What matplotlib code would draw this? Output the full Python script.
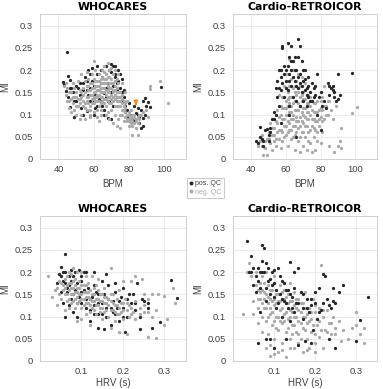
import numpy as np
import matplotlib
matplotlib.use("Agg")
import matplotlib.pyplot as plt
from matplotlib.lines import Line2D

# ---------------- data ----------------
who_bpm_pos = [(44.6,0.241),(42.5,0.172),(43,0.168),(45.5,0.187),(46.5,0.178),(46.5,0.16),(44.5,0.152),(45.5,0.14),(46.8,0.118),(48.7,0.095),(50,0.13),(51,0.16),(53,0.115),(52,0.145),(54,0.17),(55,0.185),(56,0.155),(56,0.108),(57,0.2),(58,0.13),(59,0.175),(60,0.165),(60,0.098),(61,0.145),(62,0.19),(62,0.208),(63,0.155),(64,0.13),(64,0.17),(65,0.185),(66,0.148),(66,0.098),(67,0.16),(68,0.13),(68,0.17),(69,0.2),(70,0.213),(70,0.15),(71,0.208),(71,0.12),(72,0.19),(72,0.185),(73,0.17),(73,0.14),(74,0.2),(75,0.16),(75,0.19),(76,0.13),(76,0.18),(77,0.155),(78,0.12),(78,0.105),(79,0.095),(80,0.09),(81,0.1),(83,0.12),(84,0.103),(85,0.1),(86,0.08),(87,0.07),(88,0.092),(88,0.13),(89,0.137),(90,0.12),(91,0.128),(92,0.118),(87,0.11),(98.5,0.161),(57,0.145),(54,0.1),(50,0.165),(48,0.15),(58,0.16),(62,0.12),(66,0.11),(70,0.09),(68,0.092),
               (52,0.17),(54,0.155),(56,0.175),(58,0.19),(60,0.13),(61,0.115),(63,0.135),(65,0.12),(67,0.14),(69,0.13),(71,0.165),(73,0.155),(74,0.175),(76,0.15),(77,0.14),(79,0.11),(80,0.125),(82,0.09),(83,0.085),(85,0.115),(86,0.095),(88,0.075),(89,0.1),(59,0.205),(64,0.2),(67,0.21),(70,0.195),(72,0.21),(49,0.13),(47,0.16)]
who_bpm_neg = [(43,0.165),(44,0.145),(45,0.13),(46,0.15),(47,0.135),(47,0.105),(48,0.125),(48,0.17),(49,0.14),(49,0.11),(50,0.15),(50,0.12),(51,0.135),(51,0.175),(52,0.155),(52,0.125),(53,0.19),(53,0.14),(53,0.1),(54,0.16),(54,0.13),(55,0.15),(55,0.175),(55,0.115),(56,0.14),(56,0.165),(56,0.195),(57,0.125),(57,0.155),(57,0.18),(58,0.145),(58,0.17),(58,0.11),(59,0.135),(59,0.16),(59,0.19),(60,0.125),(60,0.15),(60,0.18),(60,0.105),(61,0.14),(61,0.165),(61,0.2),(62,0.13),(62,0.155),(62,0.175),(62,0.11),(63,0.145),(63,0.165),(63,0.19),(63,0.12),(64,0.14),(64,0.16),(64,0.18),(64,0.1),(65,0.13),(65,0.15),(65,0.17),(65,0.2),(66,0.135),(66,0.16),(66,0.18),(66,0.21),(67,0.12),(67,0.145),(67,0.17),(67,0.19),(68,0.14),(68,0.155),(68,0.185),(68,0.215),(69,0.125),(69,0.15),(69,0.17),(69,0.09),(70,0.135),(70,0.16),(70,0.18),(70,0.205),(71,0.14),(71,0.155),(71,0.17),(72,0.12),(72,0.145),(72,0.165),(72,0.2),(73,0.13),(73,0.15),(73,0.18),(74,0.14),(74,0.12),(74,0.17),(75,0.13),(75,0.15),(75,0.1),(75,0.07),(76,0.125),(76,0.145),(77,0.11),(77,0.13),(78,0.095),(78,0.115),(79,0.1),(79,0.085),(79,0.13),(80,0.105),(80,0.09),(80,0.075),(81,0.095),(81,0.08),(81,0.11),(82,0.085),(82,0.1),(82,0.055),(83,0.08),(83,0.092),(84,0.07),(84,0.085),(85,0.055),(85,0.095),(86,0.09),(87,0.1),(88,0.105),(90,0.11),(91,0.095),(92,0.165),(92,0.158),(98,0.175),(102,0.125),(73,0.075),(71,0.08),(67,0.1),(63,0.085),(58,0.095),(52,0.09),(46,0.115),(60,0.22),(66,0.195),(69,0.2),(74,0.19),(76,0.17),(78,0.15),(77,0.085),(55,0.09),(50,0.1),
               (54,0.145),(55,0.125),(56,0.13),(57,0.14),(57,0.165),(58,0.12),(58,0.155),(59,0.145),(59,0.17),(59,0.125),(60,0.135),(60,0.16),(60,0.14),(61,0.13),(61,0.15),(61,0.175),(62,0.14),(62,0.165),(62,0.145),(63,0.13),(63,0.155),(63,0.175),(64,0.15),(64,0.125),(64,0.17),(65,0.14),(65,0.16),(65,0.185),(66,0.125),(66,0.15),(66,0.17),(67,0.135),(67,0.155),(67,0.18),(68,0.13),(68,0.15),(68,0.165),(69,0.14),(69,0.16),(69,0.185),(70,0.125),(70,0.145),(70,0.17),(71,0.13),(71,0.15),(71,0.19),(72,0.135),(72,0.155),(72,0.175),(73,0.12),(73,0.14),(73,0.16),(74,0.13),(74,0.15),(75,0.12),(75,0.14),(76,0.11),(76,0.135),(77,0.12),(78,0.105),(78,0.125),(79,0.09),(80,0.1),(80,0.085),(81,0.09),(82,0.075),(83,0.1),(84,0.09),(85,0.08),(86,0.1),(52,0.135),(53,0.15),(51,0.12),(50,0.14),(49,0.16),(48,0.14),(47,0.15),(46,0.13),(45,0.16),(44,0.17),(54,0.12),(56,0.11),(58,0.1),(62,0.095),(64,0.11),(68,0.105),(72,0.1),(74,0.09),(76,0.1),(70,0.11)]

car_bpm_pos = [(43,0.04),(44,0.035),(45,0.05),(45,0.072),(46,0.045),(47,0.03),(48,0.065),(49,0.068),(50,0.055),(50,0.04),(51,0.07),(52,0.09),(53,0.105),(54,0.1),(54,0.16),(55,0.14),(55,0.175),(56,0.12),(56,0.2),(57,0.155),(57,0.185),(58,0.255),(58,0.25),(59,0.21),(59,0.14),(60,0.2),(60,0.175),(61,0.26),(61,0.155),(62,0.23),(62,0.19),(62,0.12),(63,0.255),(63,0.2),(63,0.165),(64,0.14),(64,0.22),(65,0.23),(65,0.175),(66,0.13),(66,0.2),(67,0.27),(67,0.16),(68,0.255),(68,0.19),(68,0.12),(69,0.15),(69,0.22),(70,0.175),(70,0.13),(71,0.2),(71,0.155),(72,0.16),(72,0.12),(73,0.185),(73,0.14),(74,0.15),(75,0.17),(75,0.13),(76,0.16),(77,0.145),(78,0.19),(78,0.1),(80,0.065),(80,0.15),(82,0.13),(83,0.115),(84,0.17),(85,0.165),(86,0.16),(87,0.165),(88,0.15),(89,0.13),(90,0.19),(90,0.135),(91,0.145),(98,0.193),(66,0.05),(62,0.1),(57,0.08),
               (56,0.16),(57,0.2),(58,0.17),(59,0.19),(60,0.16),(61,0.21),(62,0.175),(63,0.22),(64,0.185),(65,0.2),(66,0.165),(67,0.23),(67,0.185),(68,0.17),(69,0.165),(70,0.2),(71,0.18),(72,0.145),(73,0.165),(74,0.13),(76,0.14),(77,0.165),(79,0.14),(81,0.12),(85,0.145),(87,0.155),(88,0.14),(53,0.09),(51,0.06),(47,0.04)]
car_bpm_neg = [(46,0.03),(47,0.01),(48,0.025),(49,0.045),(49,0.01),(50,0.06),(51,0.035),(51,0.08),(52,0.02),(52,0.055),(53,0.07),(53,0.04),(54,0.03),(54,0.085),(55,0.06),(55,0.11),(56,0.045),(56,0.095),(57,0.025),(57,0.12),(57,0.065),(58,0.04),(58,0.09),(58,0.14),(59,0.075),(59,0.115),(59,0.165),(60,0.055),(60,0.1),(60,0.13),(60,0.19),(61,0.03),(61,0.085),(61,0.12),(61,0.15),(62,0.065),(62,0.105),(62,0.14),(62,0.165),(62,0.225),(63,0.045),(63,0.09),(63,0.12),(63,0.18),(64,0.075),(64,0.1),(64,0.16),(64,0.2),(65,0.02),(65,0.055),(65,0.13),(65,0.15),(66,0.085),(66,0.11),(66,0.145),(66,0.175),(67,0.04),(67,0.07),(67,0.125),(67,0.19),(68,0.015),(68,0.095),(68,0.14),(68,0.165),(69,0.06),(69,0.105),(69,0.13),(69,0.185),(70,0.03),(70,0.08),(70,0.115),(70,0.15),(71,0.05),(71,0.095),(71,0.135),(71,0.17),(72,0.02),(72,0.075),(72,0.105),(72,0.145),(73,0.06),(73,0.09),(73,0.125),(74,0.035),(74,0.1),(74,0.14),(75,0.015),(75,0.075),(75,0.11),(76,0.05),(76,0.09),(76,0.125),(77,0.02),(77,0.065),(77,0.105),(78,0.04),(78,0.085),(78,0.13),(79,0.075),(79,0.11),(80,0.035),(80,0.095),(80,0.13),(81,0.14),(81,0.11),(82,0.09),(82,0.165),(83,0.12),(84,0.1),(85,0.13),(86,0.11),(87,0.09),(88,0.015),(89,0.12),(90,0.03),(91,0.04),(92,0.07),(92,0.025),(98,0.103),(101,0.118),(85,0.03),(81,0.06),(44,0.03),(46,0.055),(56,0.145),
               (55,0.08),(56,0.065),(57,0.1),(58,0.06),(58,0.115),(59,0.09),(59,0.05),(60,0.075),(60,0.115),(61,0.06),(61,0.1),(61,0.135),(62,0.08),(62,0.125),(63,0.065),(63,0.105),(63,0.14),(64,0.05),(64,0.09),(64,0.125),(65,0.075),(65,0.11),(65,0.165),(66,0.06),(66,0.095),(66,0.13),(67,0.085),(67,0.11),(67,0.15),(68,0.05),(68,0.075),(68,0.12),(69,0.085),(69,0.145),(70,0.06),(70,0.1),(70,0.135),(71,0.075),(71,0.115),(72,0.09),(72,0.125),(73,0.04),(73,0.105),(73,0.145),(74,0.065),(74,0.12),(75,0.09),(75,0.13),(76,0.07),(76,0.105),(77,0.085),(77,0.125),(78,0.06),(78,0.105),(79,0.09),(80,0.115),(81,0.085),(82,0.12),(83,0.1),(84,0.13),(53,0.055),(54,0.045),(52,0.07),(50,0.045),(48,0.04),(45,0.04)]

who_hrv_pos = [(0.06,0.24),(0.05,0.212),(0.045,0.195),(0.055,0.18),(0.06,0.2),(0.065,0.165),(0.07,0.19),(0.075,0.205),(0.08,0.15),(0.085,0.2),(0.09,0.175),(0.095,0.205),(0.1,0.13),(0.1,0.18),(0.105,0.16),(0.11,0.2),(0.12,0.14),(0.12,0.115),(0.13,0.17),(0.13,0.125),(0.14,0.15),(0.14,0.105),(0.15,0.13),(0.15,0.18),(0.16,0.195),(0.16,0.1),(0.165,0.14),(0.17,0.12),(0.17,0.08),(0.18,0.155),(0.18,0.105),(0.19,0.09),(0.19,0.135),(0.2,0.12),(0.2,0.165),(0.21,0.14),(0.21,0.1),(0.22,0.13),(0.225,0.15),(0.23,0.115),(0.235,0.175),(0.24,0.1),(0.24,0.072),(0.25,0.135),(0.26,0.13),(0.27,0.075),(0.29,0.088),(0.315,0.183),(0.33,0.142),(0.055,0.13),(0.06,0.1),(0.075,0.14),(0.08,0.11),(0.09,0.1),(0.11,0.12),(0.12,0.09),(0.14,0.075),(0.155,0.073),(0.205,0.065),(0.175,0.11),(0.18,0.175),(0.13,0.2),(0.1,0.155),(0.065,0.155),(0.04,0.175),(0.05,0.155),
               (0.05,0.19),(0.055,0.2),(0.07,0.17),(0.075,0.18),(0.085,0.16),(0.09,0.13),(0.095,0.145),(0.1,0.19),(0.105,0.2),(0.11,0.14),(0.115,0.165),(0.125,0.145),(0.13,0.105),(0.135,0.155),(0.14,0.13),(0.15,0.105),(0.155,0.15),(0.16,0.12),(0.165,0.17),(0.175,0.135),(0.185,0.12),(0.195,0.145),(0.2,0.1),(0.215,0.15),(0.23,0.13),(0.245,0.14),(0.26,0.12),(0.08,0.19),(0.06,0.175),(0.07,0.125)]
who_hrv_neg = [(0.02,0.19),(0.03,0.145),(0.04,0.165),(0.045,0.15),(0.05,0.175),(0.05,0.14),(0.055,0.16),(0.06,0.185),(0.06,0.15),(0.065,0.17),(0.065,0.135),(0.07,0.16),(0.07,0.2),(0.07,0.12),(0.075,0.175),(0.075,0.15),(0.08,0.165),(0.08,0.135),(0.08,0.21),(0.085,0.155),(0.085,0.185),(0.085,0.12),(0.09,0.145),(0.09,0.165),(0.09,0.09),(0.095,0.135),(0.095,0.18),(0.1,0.15),(0.1,0.12),(0.1,0.2),(0.105,0.14),(0.105,0.17),(0.11,0.13),(0.11,0.155),(0.11,0.105),(0.115,0.145),(0.115,0.175),(0.12,0.125),(0.12,0.16),(0.125,0.135),(0.125,0.19),(0.13,0.115),(0.13,0.15),(0.135,0.14),(0.135,0.17),(0.14,0.125),(0.14,0.16),(0.145,0.11),(0.145,0.135),(0.15,0.12),(0.15,0.15),(0.15,0.095),(0.155,0.13),(0.155,0.165),(0.16,0.115),(0.16,0.145),(0.165,0.1),(0.165,0.125),(0.17,0.135),(0.17,0.21),(0.175,0.115),(0.175,0.15),(0.18,0.125),(0.18,0.09),(0.185,0.14),(0.185,0.105),(0.19,0.12),(0.19,0.16),(0.195,0.11),(0.2,0.13),(0.2,0.095),(0.205,0.14),(0.21,0.115),(0.21,0.06),(0.215,0.125),(0.22,0.105),(0.22,0.18),(0.23,0.135),(0.23,0.095),(0.24,0.12),(0.245,0.185),(0.25,0.15),(0.25,0.11),(0.26,0.055),(0.26,0.14),(0.27,0.1),(0.27,0.15),(0.28,0.115),(0.28,0.052),(0.285,0.15),(0.3,0.147),(0.3,0.08),(0.305,0.095),(0.32,0.165),(0.325,0.13),(0.23,0.19),(0.2,0.18),(0.17,0.075),(0.12,0.08),(0.1,0.095),(0.06,0.115),(0.04,0.125),(0.14,0.185),(0.19,0.065),
               (0.055,0.17),(0.06,0.165),(0.065,0.15),(0.07,0.175),(0.07,0.14),(0.075,0.165),(0.075,0.13),(0.08,0.18),(0.08,0.15),(0.085,0.14),(0.085,0.17),(0.09,0.155),(0.09,0.13),(0.095,0.15),(0.095,0.165),(0.1,0.14),(0.1,0.17),(0.105,0.155),(0.105,0.125),(0.11,0.145),(0.11,0.17),(0.115,0.13),(0.115,0.155),(0.12,0.14),(0.12,0.11),(0.125,0.15),(0.125,0.12),(0.13,0.135),(0.13,0.165),(0.135,0.125),(0.135,0.105),(0.14,0.14),(0.145,0.15),(0.145,0.12),(0.15,0.135),(0.155,0.11),(0.155,0.145),(0.16,0.13),(0.165,0.14),(0.17,0.115),(0.17,0.15),(0.175,0.13),(0.18,0.11),(0.185,0.125),(0.19,0.105),(0.195,0.13),(0.2,0.115),(0.21,0.13),(0.215,0.1),(0.22,0.12),(0.225,0.11),(0.24,0.105),(0.25,0.125),(0.26,0.11),(0.065,0.19),(0.075,0.195),(0.09,0.2),(0.11,0.19),(0.045,0.18),(0.035,0.16)]

car_hrv_pos = [(0.035,0.27),(0.04,0.2),(0.045,0.235),(0.05,0.21),(0.05,0.17),(0.055,0.155),(0.06,0.18),(0.06,0.04),(0.065,0.2),(0.07,0.26),(0.07,0.225),(0.075,0.255),(0.075,0.2),(0.08,0.165),(0.08,0.135),(0.085,0.21),(0.09,0.185),(0.09,0.05),(0.095,0.2),(0.1,0.145),(0.1,0.175),(0.105,0.12),(0.11,0.21),(0.115,0.15),(0.12,0.1),(0.12,0.18),(0.125,0.135),(0.13,0.16),(0.135,0.12),(0.14,0.223),(0.14,0.09),(0.145,0.145),(0.15,0.2),(0.15,0.11),(0.155,0.13),(0.16,0.21),(0.16,0.035),(0.165,0.155),(0.17,0.12),(0.17,0.095),(0.175,0.045),(0.18,0.14),(0.185,0.11),(0.19,0.125),(0.195,0.07),(0.2,0.155),(0.205,0.095),(0.21,0.165),(0.215,0.115),(0.22,0.195),(0.225,0.19),(0.23,0.14),(0.235,0.05),(0.24,0.12),(0.245,0.165),(0.25,0.03),(0.25,0.13),(0.26,0.155),(0.27,0.17),(0.3,0.045),(0.31,0.092),(0.33,0.145),(0.08,0.05),(0.1,0.03),(0.13,0.05),(0.065,0.11),
               (0.045,0.2),(0.055,0.19),(0.06,0.21),(0.065,0.165),(0.07,0.2),(0.08,0.22),(0.085,0.18),(0.09,0.15),(0.095,0.17),(0.1,0.205),(0.105,0.16),(0.11,0.13),(0.115,0.19),(0.12,0.14),(0.125,0.175),(0.13,0.13),(0.135,0.16),(0.14,0.15),(0.145,0.12),(0.15,0.165),(0.16,0.13),(0.17,0.15),(0.18,0.12),(0.19,0.14),(0.2,0.13),(0.21,0.11),(0.22,0.13),(0.235,0.125),(0.245,0.135),(0.19,0.04)]
car_hrv_neg = [(0.025,0.105),(0.04,0.22),(0.045,0.19),(0.05,0.135),(0.055,0.2),(0.06,0.16),(0.06,0.12),(0.065,0.175),(0.065,0.14),(0.07,0.19),(0.07,0.1),(0.07,0.065),(0.075,0.155),(0.075,0.12),(0.08,0.2),(0.08,0.09),(0.08,0.03),(0.085,0.17),(0.085,0.13),(0.085,0.06),(0.09,0.14),(0.09,0.105),(0.09,0.012),(0.095,0.16),(0.095,0.08),(0.1,0.125),(0.1,0.19),(0.1,0.05),(0.105,0.1),(0.105,0.15),(0.11,0.135),(0.11,0.07),(0.11,0.02),(0.115,0.115),(0.115,0.17),(0.12,0.14),(0.12,0.085),(0.12,0.04),(0.125,0.16),(0.125,0.105),(0.13,0.13),(0.13,0.065),(0.13,0.01),(0.135,0.15),(0.135,0.095),(0.14,0.115),(0.14,0.175),(0.14,0.05),(0.145,0.135),(0.145,0.08),(0.15,0.1),(0.15,0.155),(0.15,0.03),(0.155,0.12),(0.155,0.065),(0.16,0.14),(0.16,0.09),(0.165,0.11),(0.165,0.05),(0.17,0.13),(0.17,0.075),(0.17,0.02),(0.175,0.1),(0.175,0.155),(0.18,0.085),(0.18,0.05),(0.185,0.12),(0.185,0.03),(0.19,0.095),(0.19,0.065),(0.195,0.14),(0.2,0.11),(0.2,0.04),(0.205,0.08),(0.21,0.12),(0.21,0.055),(0.215,0.215),(0.22,0.1),(0.22,0.03),(0.225,0.07),(0.23,0.115),(0.235,0.085),(0.24,0.06),(0.245,0.1),(0.25,0.075),(0.26,0.09),(0.265,0.045),(0.27,0.07),(0.28,0.05),(0.29,0.075),(0.3,0.11),(0.3,0.082),(0.31,0.06),(0.32,0.04),(0.32,0.075),(0.035,0.2),(0.05,0.105),(0.06,0.085),
               (0.055,0.17),(0.06,0.14),(0.065,0.155),(0.07,0.13),(0.07,0.16),(0.075,0.14),(0.075,0.175),(0.08,0.12),(0.08,0.15),(0.085,0.145),(0.085,0.1),(0.09,0.16),(0.09,0.12),(0.095,0.135),(0.095,0.11),(0.1,0.14),(0.1,0.09),(0.105,0.13),(0.105,0.075),(0.11,0.15),(0.11,0.1),(0.115,0.135),(0.115,0.09),(0.12,0.12),(0.12,0.155),(0.125,0.09),(0.125,0.14),(0.13,0.11),(0.13,0.145),(0.135,0.13),(0.135,0.075),(0.14,0.1),(0.14,0.135),(0.145,0.11),(0.145,0.06),(0.15,0.125),(0.15,0.08),(0.155,0.14),(0.155,0.1),(0.16,0.115),(0.16,0.06),(0.165,0.13),(0.165,0.085),(0.17,0.1),(0.175,0.12),(0.175,0.07),(0.18,0.105),(0.185,0.09),(0.19,0.11),(0.195,0.08),(0.2,0.125),(0.2,0.06),(0.21,0.09),(0.215,0.07),(0.22,0.115),(0.23,0.065),(0.24,0.085),(0.25,0.06),(0.09,0.035),(0.1,0.015),(0.12,0.025),(0.14,0.03),(0.16,0.04),(0.18,0.025),(0.2,0.02)]

highlight_bpm = 84.0
highlight_mi = 0.118

titles = ["WHOCARES", "Cardio-RETROICOR", "WHOCARES", "Cardio-RETROICOR"]
xlabels = ["BPM", "BPM", "HRV (s)", "HRV (s)"]
bpm_ticks = [40, 60, 80, 100]
hrv_ticks = [0.1, 0.2, 0.3]
hrv_ticklabels = ["0.1", "0.2", "0.3"]
mi_ticks = [0, 0.05, 0.1, 0.15, 0.2, 0.25, 0.3]
mi_ticklabels = ["0", "0.05", "0.1", "0.15", "0.2", "0.25", "0.3"]
legend_labels = ["pos. QC", "neg. QC"]

# ---------------- style ----------------
DARK = "#262626"
GRAY = "#a9a9a9"
TXT = "#404040"
plt.rcParams['font.family'] = ['Liberation Sans', 'DejaVu Sans']

fig = plt.figure(figsize=(3.83, 3.89), dpi=100)
W, H = 383.0, 389.0
boxes = [(40, 14, 146, 145), (233, 14, 144, 145),
         (40, 216, 146, 145), (233, 216, 144, 145)]
panels = [(who_bpm_pos, who_bpm_neg, True), (car_bpm_pos, car_bpm_neg, False),
          (who_hrv_pos, who_hrv_neg, True), (car_hrv_pos, car_hrv_neg, False)]

axes = []
for i, (box, (pos, neg, gray_top)) in enumerate(zip(boxes, panels)):
    l, t, w, h = box
    ax = fig.add_axes([l / W, 1 - (t + h) / H, w / W, h / H])
    axes.append(ax)
    px, py = zip(*pos)
    nx, ny = zip(*neg)
    if gray_top:
        ax.scatter(px, py, s=5.5, c=DARK, linewidths=0, zorder=3)
        ax.scatter(nx, ny, s=5.5, c=GRAY, linewidths=0, zorder=3)
    else:
        ax.scatter(nx, ny, s=5.5, c=GRAY, linewidths=0, zorder=3)
        ax.scatter(px, py, s=5.5, c=DARK, linewidths=0, zorder=3)
    if i < 2:
        ax.set_xlim(29.5, 112.5)
        ax.set_xticks(bpm_ticks)
        ax.xaxis.set_label_coords(0.5, -0.135)
    else:
        ax.set_xlim(0.0, 0.352)
        ax.set_xticks(hrv_ticks)
        ax.set_xticklabels(hrv_ticklabels)
        ax.xaxis.set_label_coords(0.5, -0.115)
    ax.set_ylim(0, 0.326)
    ax.set_yticks(mi_ticks)
    ax.set_yticklabels(mi_ticklabels)
    ax.grid(True, color="#e8e8e8", linewidth=0.6, zorder=0)
    ax.set_axisbelow(True)
    for sp in ax.spines.values():
        sp.set_color("#d0d0d0")
        sp.set_linewidth(0.7)
    ax.tick_params(length=0, labelsize=6.7, colors=TXT)
    ax.tick_params(axis='y', pad=5)
    ax.tick_params(axis='x', pad=4)
    ax.set_title(titles[i], fontsize=7.8, fontweight='bold', family='DejaVu Sans', pad=3)
    ax.set_xlabel(xlabels[i], fontsize=7, color=TXT)
    ax.set_ylabel("MI", fontsize=7, color=TXT)
    ax.yaxis.set_label_coords(-0.205, 0.5)

axes[0].annotate('', xy=(highlight_bpm, highlight_mi - 0.004),
                 xytext=(highlight_bpm, highlight_mi + 0.012),
                 arrowprops=dict(arrowstyle='-|>', color='#ff8c1a', lw=1.2,
                                 mutation_scale=6), zorder=5)

handles = [Line2D([], [], ls='none', marker='o', ms=1.8, color=DARK),
           Line2D([], [], ls='none', marker='o', ms=1.8, color=GRAY)]
leg = fig.legend(handles, legend_labels, loc='center',
                 bbox_to_anchor=(205.5 / W, 1 - 188 / H), fontsize=5,
                 frameon=True, fancybox=False, handlelength=0.5,
                 handletextpad=0.3, borderpad=0.35, labelspacing=0.15)
leg.get_frame().set_edgecolor("#b0b0b0")
leg.get_frame().set_linewidth(0.6)
for txt, c in zip(leg.get_texts(), [TXT, GRAY]):
    txt.set_color(c)

fig.savefig("out.png", dpi=100)
